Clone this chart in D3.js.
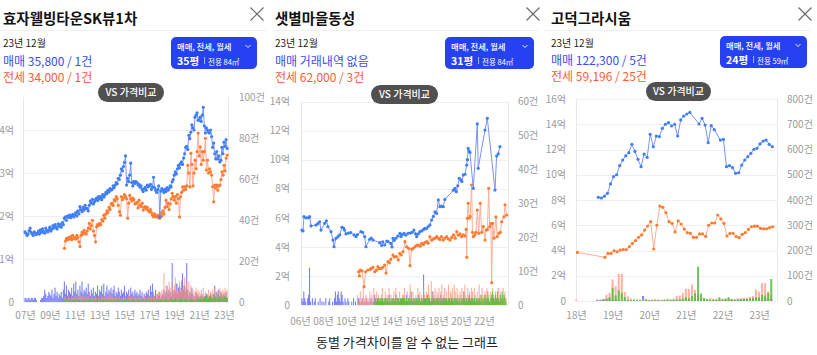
<!DOCTYPE html>
<html><head><meta charset="utf-8">
<script src="https://cdn.jsdelivr.net/npm/d3@7"></script>
<style>
body{margin:0;background:#fff;}
svg{display:block;font-family:"Noto Sans CJK KR","Noto Sans",sans-serif;}
</style></head>
<body><svg id="c" width="817" height="355"></svg>
<script>
// ---------------- Panel 1 : 효자웰빙타운SK뷰1차 ----------------
const P1_X_TICKS = [2007,2009,2011,2013,2015,2017,2019,2021,2023];
const P1_X_LABELS = ["07년","09년","11년","13년","15년","17년","19년","21년","23년"];
const P1_L_TICKS = [0,1,2,3,4];
const P1_L_LABELS = ["0","1억","2억","3억","4억"];
const P1_R_TICKS = [0,20,40,60,80,100];
const P1_R_LABELS = ["0","20건","40건","60건","80건","100건"];
const P1_SALE_START = 2007.0;   // 매매 (억), monthly
const P1_SALE = [
1.63,1.60,1.55,1.58,1.66,1.72,1.62,1.58,1.55,1.63,1.60,1.57,
1.60,1.65,1.58,1.68,1.62,1.70,1.64,1.60,1.72,1.66,1.63,1.68,
1.74,1.65,1.70,1.78,1.72,1.80,1.75,1.70,1.82,1.76,1.80,1.74,
1.85,1.80,1.95,1.98,1.90,2.00,1.97,2.02,1.96,2.00,2.04,1.98,
2.03,2.08,2.00,2.12,2.05,2.22,2.15,2.10,2.20,2.14,2.25,2.18,
2.18,2.12,2.25,2.35,2.30,2.39,2.28,2.33,2.38,2.42,2.36,2.45,
2.40,2.45,2.38,2.50,2.44,2.49,2.55,2.52,2.60,2.56,2.64,2.60,
2.62,2.70,2.66,2.72,2.78,2.75,2.88,2.85,2.95,3.10,3.05,3.15,
3.25,3.40,2.72,2.88,2.80,2.95,3.23,2.78,2.70,2.81,2.76,2.80,
2.78,2.72,2.74,2.67,2.70,2.62,2.57,2.63,2.67,2.60,2.72,2.68,
2.70,2.74,2.62,2.68,2.90,2.66,2.60,2.55,2.62,2.70,1.98,2.58,
2.64,2.60,2.55,2.62,2.57,2.66,2.60,2.64,2.70,2.68,2.80,2.85,
2.95,3.03,2.98,3.10,3.18,3.12,3.22,3.26,3.20,3.35,3.45,3.60,
3.62,3.55,3.88,3.80,3.95,4.12,4.05,4.00,4.30,4.35,4.40,4.23,
4.23,4.30,4.20,4.35,4.53,4.10,3.93,4.05,4.00,3.95,3.93,4.00,
3.85,3.60,3.70,3.45,3.33,3.50,3.33,3.40,3.26,3.30,3.60,3.45,
3.72,3.62,3.78,3.57];
const P1_JEONSE_START = 2010.17;  // 전세 (억), monthly
const P1_JEONSE = [
1.25,1.42,1.48,1.45,1.50,1.47,1.52,1.45,1.55,1.48,
1.50,1.46,1.55,1.50,1.40,1.29,1.55,1.62,1.58,1.67,1.60,1.58,
1.65,1.72,1.83,1.70,1.78,1.90,1.65,1.55,1.40,1.75,1.80,1.78,
1.83,1.80,1.92,1.88,2.02,1.95,2.05,2.12,2.08,2.20,2.15,2.28,
2.30,2.25,2.38,2.35,2.45,2.40,2.25,2.10,2.02,2.45,2.38,2.42,
2.50,2.45,2.40,1.95,2.30,2.48,2.40,2.35,2.42,2.38,2.28,2.30,
2.32,2.19,2.37,2.25,2.22,2.30,2.14,2.20,2.22,2.16,2.20,2.12,
2.10,2.15,2.08,2.02,1.98,2.05,1.99,1.98,2.02,1.96,1.95,2.07,
2.00,2.12,2.05,2.20,2.37,2.22,2.30,2.15,2.28,2.40,2.53,2.45,
2.37,2.45,2.30,2.50,2.40,1.98,2.45,2.55,2.68,2.60,2.68,2.62,
2.70,3.18,3.00,2.68,3.46,3.20,2.70,3.00,3.30,3.10,3.50,3.93,
3.40,3.61,3.20,3.50,3.30,3.50,3.81,3.07,3.30,3.00,3.10,3.03,
2.95,2.68,2.33,2.72,2.65,2.72,2.60,2.70,2.72,2.85,3.03,2.95,
3.18,3.05,3.35,3.42];
const P1_SALE_CNT_START = 2007.0;  // 매매 건수, monthly
const P1_SALE_CNT = [
2,2,1,2,2,1,2,2,1,2,2,1,
0,0,0,1,2,2,3,6,4,2,3,5,
4,3,6,2,4,7,3,5,2,4,3,5,
2,6,10,4,8,3,6,5,4,7,3,9,
5,10,4,6,3,8,5,10,4,6,5,7,
4,9,5,3,6,4,7,3,5,4,8,3,
6,5,8,4,9,3,5,8,4,6,5,7,
4,6,8,3,5,4,7,5,3,6,4,5,
8,3,5,4,6,3,7,4,5,3,6,4,
5,3,4,6,3,5,2,4,3,5,4,6,
3,8,5,9,4,3,6,2,4,3,5,2,
3,4,6,3,5,8,4,6,5,3,19,4,
6,5,9,4,7,8,5,10,14,6,8,5,
19,6,3,5,4,7,4,2,3,5,4,3,
2,3,4,3,2,3,2,4,3,2,3,4,
3,2,4,8,3,5,4,6,3,5,4,3,
4,3,5,2];
const P1_JEONSE_CNT_START = 2010.17;  // 전세 건수
const P1_JEONSE_CNT = [
2,3,1,2,3,2,1,3,2,2,
3,2,1,3,2,4,2,3,1,2,3,2,
2,3,2,1,3,2,4,2,3,2,1,3,
2,1,3,2,2,3,1,2,3,2,4,2,
3,2,2,1,3,2,2,3,1,2,2,3,
2,3,1,2,4,2,3,2,1,3,2,2,
1,2,3,1,2,2,1,3,2,1,2,2,
3,2,4,2,5,3,2,4,3,5,2,4,
6,4,14,5,8,4,6,10,7,5,9,6,
8,12,6,9,5,10,7,11,6,8,12,7,
9,6,10,5,8,4,6,3,5,7,4,6,
5,3,6,4,7,3,5,2,4,6,3,5,
4,6,3,7,5,4,6,3,7,5,4,6,
5,7,4,6];
const P1_MONTHLY_CNT_START = 2010.17;  // 월세 건수
const P1_MONTHLY_CNT = [
1,0,1,1,0,1,1,0,1,1,
1,1,0,1,1,1,0,1,1,0,1,1,
0,1,1,1,0,1,1,0,1,1,1,0,
1,1,0,1,1,0,1,1,1,0,1,1,
1,0,1,1,0,1,1,1,0,1,1,0,
1,1,1,0,1,1,0,1,1,1,0,1,
0,1,1,0,1,1,1,0,1,1,0,1,
1,0,1,1,1,0,1,1,0,1,1,1,
1,1,0,1,2,1,1,0,1,2,1,1,
1,2,1,0,1,1,2,1,1,0,1,2,
1,1,0,1,2,1,1,1,0,1,1,2,
1,2,1,1,2,2,3,2,1,2,3,2,
2,1,2,3,2,1,2,2,3,2,1,2,
2,3,2,2];

// ---------------- Panel 2 : 샛별마을동성 ----------------
const P2_X_TICKS = [2006,2008,2010,2012,2014,2016,2018,2020,2022];
const P2_X_LABELS = ["06년","08년","10년","12년","14년","16년","18년","20년","22년"];
const P2_L_TICKS = [0,2,4,6,8,10,12,14];
const P2_L_LABELS = ["0","2억","4억","6억","8억","10억","12억","14억"];
const P2_R_TICKS = [0,10,20,30,40,50,60];
const P2_R_LABELS = ["0","10건","20건","30건","40건","50건","60건"];
const P2_SALE = [ // [년, 억]
[2006.17,5.16],[2006.26,5.1],[2006.35,6.08],[2006.52,6.0],[2006.7,6.0],[2006.84,6.08],[2006.96,5.44],
[2007.39,5.5],[2007.55,5.6],[2007.71,5.73],[2007.83,5.16],[2008.15,5.62],[2008.3,5.8],[2008.43,5.39],
[2008.7,5.05],[2008.87,4.47],[2008.96,4.01],[2009.13,4.59],[2009.3,4.7],[2009.45,4.82],[2009.65,5.35],
[2009.8,5.3],[2009.87,5.16],[2010.0,4.89],[2010.2,4.95],[2010.41,4.98],[2010.7,4.82],[2010.87,4.7],
[2011.0,4.85],[2011.3,5.05],[2011.45,5.0],[2011.63,4.7],[2011.74,4.01],[2012.06,4.52],[2012.2,4.6],
[2012.35,4.47],[2012.93,4.29],[2013.1,4.1],[2013.2,4.35],[2013.37,4.13],[2013.55,4.4],[2013.66,4.36],
[2013.9,4.24],[2014.0,4.0],[2014.09,4.59],[2014.2,4.45],[2014.35,4.6],[2014.52,4.75],[2014.7,4.93],
[2014.78,4.7],[2014.9,4.85],[2015.06,4.93],[2015.2,4.8],[2015.4,4.93],[2015.6,4.95],[2015.75,5.0],
[2015.91,5.16],[2016.05,4.9],[2016.15,4.7],[2016.3,4.9],[2016.43,5.05],[2016.6,5.1],[2016.75,5.2],
[2016.87,5.28],[2017.0,5.25],[2017.15,5.4],[2017.3,5.51],[2017.45,5.85],[2017.6,6.1],[2017.74,6.42],
[2017.88,6.3],[2018.03,7.23],[2018.17,6.77],[2018.3,6.8],[2018.46,6.77],[2018.6,7.27],[2019.35,7.9],
[2019.48,8.03],[2019.6,7.8],[2019.72,8.2],[2019.85,8.72],[2020.0,8.6],[2020.08,8.5],[2020.2,8.95],
[2020.35,9.0],[2020.5,9.63],[2020.56,10.0],[2020.63,10.78],[2020.7,10.6],[2020.78,10.5],[2021.07,8.03],
[2021.42,12.46],[2021.5,9.41],[2022.09,12.04],[2022.29,12.85],[2022.96,7.91],[2023.1,10.25],
[2023.24,10.4],[2023.39,10.9]];
const P2_JEONSE = [
[2011.10,2.29],[2011.17,2.0],[2011.25,2.4],[2011.39,2.35],[2011.57,1.26],[2011.71,2.29],[2011.91,2.41],
[2012.1,2.45],[2012.2,2.52],[2012.35,2.6],[2012.5,2.29],[2012.65,2.4],[2012.78,2.64],[2012.9,2.5],
[2013.07,2.52],[2013.2,2.6],[2013.37,2.75],[2013.48,2.2],[2013.65,2.98],[2013.78,2.9],[2013.9,3.14],
[2014.09,3.44],[2014.2,3.3],[2014.38,3.33],[2014.55,3.1],[2014.67,3.56],[2014.8,3.44],[2014.96,3.67],
[2015.13,4.36],[2015.28,4.0],[2015.45,3.9],[2015.57,2.71],[2015.71,3.83],[2015.85,3.9],[2016.0,4.01],
[2016.15,4.1],[2016.3,4.13],[2016.45,4.05],[2016.58,4.24],[2016.72,4.15],[2016.85,4.3],[2017.02,4.36],
[2017.15,4.25],[2017.3,4.7],[2017.45,4.47],[2017.6,4.55],[2017.75,4.6],[2017.89,4.7],[2018.03,4.6],
[2018.17,4.5],[2018.3,4.7],[2018.46,4.47],[2018.6,4.6],[2018.76,4.7],[2018.9,4.55],[2019.05,4.47],
[2019.2,4.65],[2019.35,4.82],[2019.5,4.6],[2019.63,5.05],[2019.78,4.8],[2019.92,4.9],[2020.06,4.7],
[2020.2,4.82],[2020.35,4.75],[2020.45,5.2],[2020.5,3.28],[2020.56,5.97],[2020.63,7.0],[2020.7,5.97],
[2020.8,6.1],[2020.93,8.26],[2021.0,5.0],[2021.07,4.7],[2021.2,4.82],[2021.3,5.0],[2021.42,6.54],
[2021.55,4.93],[2021.68,7.0],[2021.8,5.0],[2021.95,5.4],[2022.09,4.47],[2022.2,5.16],[2022.3,5.2],
[2022.41,8.03],[2022.5,5.39],[2022.6,5.6],[2022.67,1.54],[2022.75,5.62],[2022.88,4.6],[2023.04,6.07],
[2023.15,4.7],[2023.3,4.93],[2023.42,5.0],[2023.54,5.73],[2023.74,6.07],[2023.83,6.9],[2023.97,6.19]];
const P2_SALE_CNT_START = 2006.0;
const P2_SALE_CNT = [
0,1,2,1,4,2,1,0,2,3,11,1,
0,2,0,1,2,0,0,1,0,2,0,1,
0,1,0,2,0,0,1,2,0,0,1,0,
2,4,1,3,4,2,1,4,3,1,0,2,
1,0,2,1,0,0,1,0,2,0,1,0,
0,2,1,0,1,2,0,1,0,2,1,0,
1,0,2,1,0,1,3,0,1,2,0,1,
0,2,1,0,1,0,2,1,0,3,1,0,
1,2,0,1,3,0,2,1,0,1,2,0,
2,1,0,3,1,0,2,1,4,0,1,2,
1,0,2,1,3,0,1,2,0,9,1,2,
0,3,1,2,0,1,4,2,1,0,2,1,
2,1,0,3,1,2,0,1,2,0,1,0,
1,0,2,1,0,1,0,2,1,0,1,0,
0,1,2,4,1,0,2,1,0,3,1,0,
1,0,2,0,1,0,0,2,0,1,0,0,
0,1,0,2,0,1,0,0,1,0,2,0,
0,1,0,0,1,0,0,1,0,0,0,0];
const P2_JEONSE_CNT_START = 2011.0;
const P2_JEONSE_CNT = [
3,1,2,4,1,2,5,2,1,3,2,1,
2,4,1,3,2,5,1,2,4,1,3,2,
1,3,5,2,1,4,2,3,1,5,2,3,
2,1,4,2,5,3,1,2,4,2,1,3,
3,5,2,1,4,2,3,6,2,1,4,2,
2,3,1,5,2,4,1,3,2,5,3,1,
4,2,6,3,1,7,2,4,3,5,2,4,
3,5,2,4,6,2,3,5,1,4,2,6,
2,4,3,5,2,6,4,2,5,3,1,4,
3,5,2,4,6,3,2,5,3,4,2,5,
4,2,5,3,1,4,2,6,3,2,5,3,
2,4,3,5,2,3,1,4,2,5,3,2,
4,2,3,5,2,4,3,2,5,3,4,2];
const P2_MONTHLY_CNT_START = 2012.5;
const P2_MONTHLY_CNT = [
1,2,1,1,2,1,
2,1,2,1,2,2,1,2,1,2,1,2,
1,2,2,1,2,1,2,2,1,2,1,2,
2,2,1,2,1,2,2,1,2,2,1,2,
1,2,2,1,2,2,1,2,1,2,2,1,
2,1,2,2,1,2,1,2,2,1,2,2,
1,2,2,1,2,1,2,2,1,2,1,2,
2,1,2,2,1,2,2,1,2,1,2,2,
1,2,1,2,2,1,2,1,2,2,1,2,
2,1,2,1,2,2,1,2,1,3,2,1,
2,3,2,1,4,2,1,2,3,4,2,1,
3,2,4,2,1,3,2,4,2,3,2,1];

// ---------------- Panel 3 : 고덕그라시움 ----------------
const P3_X_TICKS = [2018,2019,2020,2021,2022,2023];
const P3_X_LABELS = ["18년","19년","20년","21년","22년","23년"];
const P3_L_TICKS = [0,2,4,6,8,10,12,14,16];
const P3_L_LABELS = ["0","2억","4억","6억","8억","10억","12억","14억","16억"];
const P3_R_TICKS = [0,100,200,300,400,500,600,700,800];
const P3_R_LABELS = ["0","100건","200건","300건","400건","500건","600건","700건","800건"];
const P3_SALE_START = 2018.61;
const P3_SALE = [
8.21,8.16,8.30,8.53,9.27,9.85,10.0,10.72,11.17,11.5,11.75,12.41,11.85,11.22,10.64,11.64,11.38,
13.2,12.22,13.06,13.02,13.68,14.0,14.13,13.86,14.0,13.07,14.34,14.65,14.81,14.94,null,null,
14.02,14.47,13.94,12.54,13.89,13.57,null,12.75,12.8,10.64,10.72,10.56,10.11,10.16,10.77,11.17,
11.43,11.7,12.02,12.1,12.44,12.67,12.75,12.41,12.22];
const P3_JEONSE_FIRST = [[2018.04,3.85]];
const P3_JEONSE_START = 2018.79;
const P3_JEONSE = [
3.46,3.77,3.77,3.98,3.9,4.03,4.08,4.08,4.3,4.56,4.78,5.04,5.23,5.62,5.94,6.28,4.12,6.0,7.52,7.42,
7.0,6.28,6.15,5.47,6.34,6.1,5.7,5.41,5.36,5.04,5.04,5.31,5.31,5.12,6.0,6.18,6.18,6.81,6.5,6.15,
5.15,5.36,5.36,5.1,5.02,5.28,5.41,5.67,5.88,5.93,5.93,5.75,5.72,5.72,5.81,5.88];
const P3_SALE_CNT_START = 2018.0;
const P3_SALE_CNT = [
0,0,0,0,0,0,0,5,5,8,10,8,
6,5,4,3,4,3,2,3,3,2,20,5,
4,3,3,2,3,2,3,3,4,5,3,4,
8,5,4,6,5,3,2,3,2,3,2,3,
3,4,3,5,4,6,8,10,8,9,10,8,
10,8,12,9,8];
const P3_JEONSE_CNT = [
5,0,0,0,0,0,0,0,3,8,25,32,
85,58,108,108,35,18,10,8,6,6,8,10,
5,6,8,6,5,8,10,8,10,20,22,32,
48,48,65,44,30,15,10,8,12,8,10,8,
10,8,12,6,8,10,10,12,14,17,20,45,
37,71,71,37,25];
const P3_MONTHLY_CNT = [
0,0,0,0,0,0,0,0,2,5,8,15,
52,22,42,32,15,5,3,3,2,3,2,3,
2,3,2,3,2,3,4,3,5,5,8,10,
15,12,20,30,136,30,12,8,5,6,5,15,
6,10,15,8,5,6,8,6,8,10,12,15,
15,25,22,32,87];

// ---------------- drawing ----------------
const svg = d3.select("#c");
svg.append("rect").attr("width",817).attr("height",355).attr("fill","#fff");

const C_SALE_PT = "#3f7ff4", C_SALE_LN = "#7d92f7";
const C_JS_PT = "#ff7b30", C_JS_LN = "#ffae95";
const C_BAR_SALE = "#4f5af2", C_BAR_JS = "#ff8f78", C_BAR_MON = "#4fbf3a";

function monthly(start, vals){
  const out=[]; vals.forEach((v,i)=>{ if(v!==null) out.push([start+i/12, v]); }); return out;
}

function drawPanel(c){
  const g = svg.append("g");
  const P = c.plot;
  const x = d3.scaleLinear().domain(c.xDomain).range([P.x0,P.x1]);
  const yL = d3.scaleLinear().domain([0,c.leftMax]).range([P.y1,P.y0]);
  const yR = d3.scaleLinear().domain([0,c.rightMax]).range([P.y1,P.y0]);

  // header
  g.append("text").attr("x",c.tx).attr("y",24).attr("font-size",14.5).attr("font-weight",700)
    .attr("fill","#111").text(c.title);
  g.append("line").attr("x1",c.ox).attr("x2",c.ox+266).attr("y1",30.5).attr("y2",30.5).attr("stroke","#efefef");
  const cl = c.close;
  g.append("path").attr("d",`M${cl[0]-6.5},${cl[1]-6.5}L${cl[0]+6.5},${cl[1]+6.5}M${cl[0]+6.5},${cl[1]-6.5}L${cl[0]-6.5},${cl[1]+6.5}`)
    .attr("stroke","#666").attr("stroke-width",1.1).attr("fill","none");
  g.append("text").attr("x",c.tx).attr("y",47).attr("font-size",10).attr("fill","#222").text(c.ym);
  g.append("text").attr("x",c.tx).attr("y",c.saleY).attr("font-size",12).attr("fill","#3a4df2").text(c.saleTxt);
  g.append("text").attr("x",c.tx).attr("y",c.saleY+16).attr("font-size",12).attr("fill","#ff5a3a").text(c.jsTxt);

  // button
  const b = c.btn;
  g.append("rect").attr("x",b[0]).attr("y",b[1]).attr("width",b[2]).attr("height",b[3]).attr("rx",5).attr("fill","#2541f2");
  g.append("text").attr("x",b[0]+6).attr("y",b[1]+12.5).attr("font-size",8.3).attr("font-weight",500).attr("fill","#fff").text("매매, 전세, 월세");
  const cx = b[0]+b[2]-9, cy = b[1]+9.5;
  g.append("path").attr("d",`M${cx-2.5},${cy-1.5}L${cx},${cy+1}L${cx+2.5},${cy-1.5}`).attr("stroke","#fff").attr("fill","none").attr("stroke-width",0.9);
  const py = g.append("text").attr("x",b[0]+6).attr("y",b[1]+27.5).attr("font-size",10.5).attr("font-weight",700).attr("fill","#fff").text(c.pyeong);
  const pw = py.node().getComputedTextLength();
  g.append("line").attr("x1",b[0]+6+pw+5.5).attr("x2",b[0]+6+pw+5.5).attr("y1",b[1]+20).attr("y2",b[1]+27).attr("stroke","#c9d0ff").attr("stroke-width",0.8);
  g.append("text").attr("x",b[0]+6+pw+9).attr("y",b[1]+27.5).attr("font-size",7.5).attr("fill","#fff").text(c.area);

  // grid + borders
  g.selectAll(null).data(c.lTicks).join("line")
    .attr("x1",P.x0).attr("x2",P.x1).attr("y1",d=>Math.round(yL(d))+0.5).attr("y2",d=>Math.round(yL(d))+0.5)
    .attr("stroke","#efefef");
  [P.x0,P.x1].forEach(xx=>g.append("line").attr("x1",xx+0.5).attr("x2",xx+0.5).attr("y1",P.y0).attr("y2",P.y1).attr("stroke","#e8e8e8"));

  // bars
  const bw = c.barW;
  function bars(start, vals, color, op){
    const d = vals.map((v,i)=>[start+i/12,v]).filter(e=>e[1]>0 && x(e[0])>=P.x0 && x(e[0])<=P.x1);
    g.append("g").selectAll("rect").data(d).join("rect")
      .attr("x",e=>x(e[0])-bw/2).attr("width",bw)
      .attr("y",e=>yR(e[1])).attr("height",e=>P.y1-yR(e[1]))
      .attr("fill",color).attr("opacity",op);
  }
  bars(c.saleCnt[0], c.saleCnt[1], C_BAR_SALE, 0.75);
  bars(c.jsCnt[0], c.jsCnt[1], C_BAR_JS, 0.7);
  bars(c.monCnt[0], c.monCnt[1], C_BAR_MON, 0.85);

  // lines
  const line = d3.line().x(d=>x(d[0])).y(d=>yL(d[1]));
  function series(pts, lc, pc){
    g.append("path").datum(pts).attr("d",line).attr("fill","none").attr("stroke",lc).attr("stroke-width",1);
    g.append("g").selectAll("circle").data(pts).join("circle")
      .attr("cx",d=>x(d[0])).attr("cy",d=>yL(d[1])).attr("r",1.6).attr("fill",pc);
  }
  series(c.js, C_JS_LN, C_JS_PT);
  series(c.sale, C_SALE_LN, C_SALE_PT);

  // axes
  const styleAxis = sel => { sel.select(".domain").remove(); sel.selectAll("line").remove();
    sel.attr("font-family",null).attr("font-size",null);
    sel.selectAll("text").attr("font-size",10).attr("fill","#9a9a9a"); };
  g.append("g").attr("transform",`translate(${P.x0},0)`)
    .call(d3.axisLeft(yL).tickValues(c.lTicks).tickFormat((d,i)=>c.lLabels[i]).tickSize(0).tickPadding(c.lPad)).call(styleAxis);
  g.append("g").attr("transform",`translate(${P.x1},0)`)
    .call(d3.axisRight(yR).tickValues(c.rTicks).tickFormat((d,i)=>c.rLabels[i]).tickSize(0).tickPadding(c.rPad)).call(styleAxis);
  g.append("g").attr("transform",`translate(0,${P.y1})`)
    .call(d3.axisBottom(x).tickValues(c.xTicks).tickFormat((d,i)=>c.xLabels[i]).tickSize(0).tickPadding(c.xPad)).call(styleAxis);

  // VS pill
  const v = c.vs;
  g.append("rect").attr("x",v[0]).attr("y",v[1]).attr("width",v[2]).attr("height",v[3]).attr("rx",v[3]/2).attr("fill","#505050");
  g.append("text").attr("x",v[0]+v[2]/2).attr("y",v[1]+v[3]/2+3.6).attr("text-anchor","middle")
    .attr("font-size",10).attr("font-weight",500).attr("fill","#fff").text("VS 가격비교");
}

drawPanel({ox:0, tx:3, title:"효자웰빙타운SK뷰1차", close:[257,14], ym:"23년 12월",
  saleY:66, saleTxt:"매매 35,800 / 1건", jsTxt:"전세 34,000 / 1건",
  btn:[171,37,86,32], pyeong:"35평", area:"전용 84㎡", vs:[98,83,66,19],
  plot:{x0:23,x1:228,y0:97,y1:302}, xDomain:[2006.84,2023.32], leftMax:4.77, rightMax:100, barW:1.1,
  lTicks:P1_L_TICKS, lLabels:P1_L_LABELS, rTicks:P1_R_TICKS, rLabels:P1_R_LABELS,
  xTicks:P1_X_TICKS, xLabels:P1_X_LABELS, lPad:9, rPad:11, xPad:10,
  sale:monthly(P1_SALE_START,P1_SALE), js:monthly(P1_JEONSE_START,P1_JEONSE),
  saleCnt:[P1_SALE_CNT_START,P1_SALE_CNT], jsCnt:[P1_JEONSE_CNT_START,P1_JEONSE_CNT], monCnt:[P1_MONTHLY_CNT_START,P1_MONTHLY_CNT]});

drawPanel({ox:272, tx:275, title:"샛별마을동성", close:[533,14], ym:"23년 12월",
  saleY:66, saleTxt:"매매 거래내역 없음", jsTxt:"전세 62,000 / 3건",
  btn:[445,37,89,32], pyeong:"31평", area:"전용 84㎡", vs:[371,85,67,19],
  plot:{x0:301,x1:508,y0:101.6,y1:305}, xDomain:[2006.09,2024.09], leftMax:14, rightMax:60, barW:1.1,
  lTicks:P2_L_TICKS, lLabels:P2_L_LABELS, rTicks:P2_R_TICKS, rLabels:P2_R_LABELS,
  xTicks:P2_X_TICKS, xLabels:P2_X_LABELS, lPad:11, rPad:10, xPad:13,
  sale:P2_SALE, js:P2_JEONSE,
  saleCnt:[P2_SALE_CNT_START,P2_SALE_CNT], jsCnt:[P2_JEONSE_CNT_START,P2_JEONSE_CNT], monCnt:[P2_MONTHLY_CNT_START,P2_MONTHLY_CNT]});

drawPanel({ox:544, tx:551, title:"고덕그라시움", close:[805,14], ym:"23년 12월",
  saleY:65, saleTxt:"매매 122,300 / 5건", jsTxt:"전세 59,196 / 25건",
  btn:[720,36,87,32], pyeong:"24평", area:"전용 59㎡", vs:[646,82,65,19],
  plot:{x0:576,x1:777,y0:99,y1:301}, xDomain:[2018,2023.49], leftMax:16, rightMax:800, barW:2,
  lTicks:P3_L_TICKS, lLabels:P3_L_LABELS, rTicks:P3_R_TICKS, rLabels:P3_R_LABELS,
  xTicks:P3_X_TICKS, xLabels:P3_X_LABELS, lPad:10, rPad:10, xPad:11,
  sale:monthly(P3_SALE_START,P3_SALE), js:P3_JEONSE_FIRST.concat(monthly(P3_JEONSE_START,P3_JEONSE)),
  saleCnt:[P3_SALE_CNT_START,P3_SALE_CNT], jsCnt:[P3_SALE_CNT_START,P3_JEONSE_CNT], monCnt:[P3_SALE_CNT_START,P3_MONTHLY_CNT]});

svg.append("text").attr("x",407).attr("y",347).attr("text-anchor","middle").attr("font-size",13)
  .attr("fill","#222").text("동별 가격차이를 알 수 없는 그래프");
</script></body></html>
